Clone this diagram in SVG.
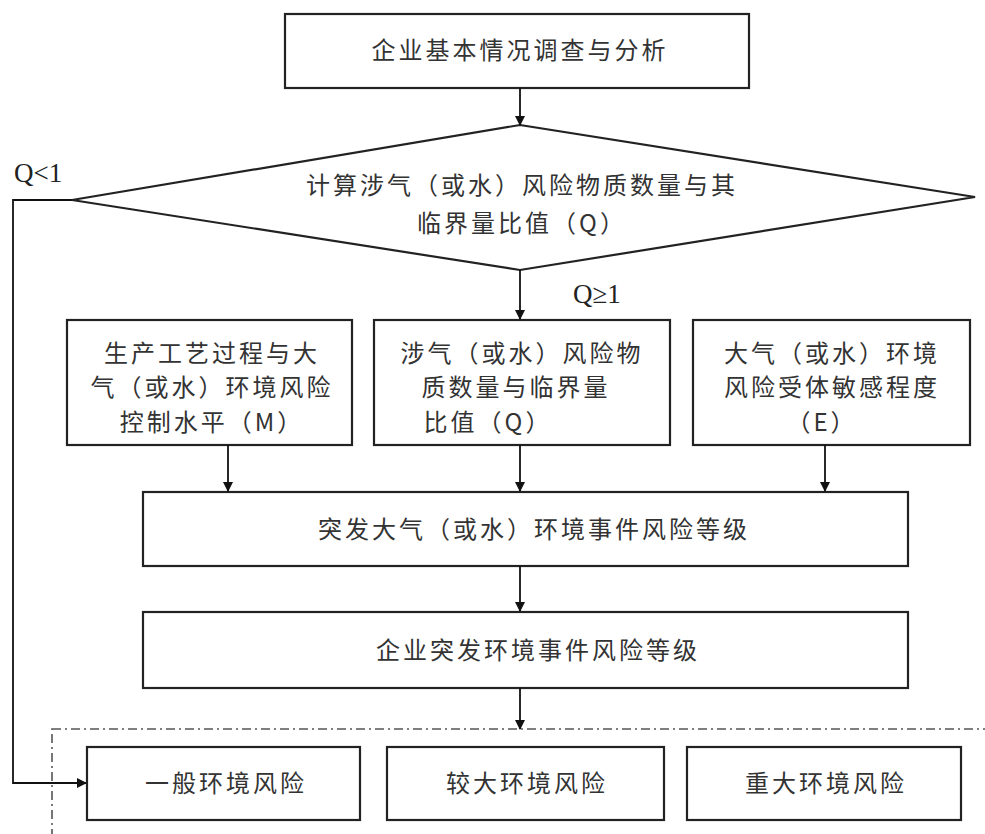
<svg xmlns="http://www.w3.org/2000/svg" width="985" height="834" viewBox="0 0 985 834">
<style>
.box{fill:#fff;stroke:#222;stroke-width:2.2}
.t{font-family:"Noto Sans CJK SC","Liberation Serif",serif;font-size:24px;fill:#333;text-anchor:middle;letter-spacing:3px}
.lbl{font-family:"Liberation Serif",serif;font-size:27px;fill:#222}
.c{fill:none;stroke:#111;stroke-width:1.8}
.dash{fill:none;stroke:#555;stroke-width:1.6;stroke-dasharray:9,4,2,4}
</style>
<defs>
<marker id="ah" markerWidth="10" markerHeight="10" refX="9" refY="5" orient="auto" markerUnits="userSpaceOnUse" viewBox="0 0 10 10">
<path d="M0,0 L10,5 L0,10 z" fill="#111"/>
</marker>
</defs>
<rect class="dash" x="52" y="729" width="960" height="130"/>
<g id="n_start"><rect class="box" x="285" y="14" width="464" height="74"/><text class="t" x="520" y="59">企业基本情况调查与分析</text></g>
<g id="n_decision"><polygon class="box" points="520,125 975,197 520,270 72,200"/>
<text class="t" x="522" y="194">计算涉气（或水）风险物质数量与其</text>
<text class="t" x="522" y="232">临界量比值（Q）</text></g>
<g id="n_m"><rect class="box" x="67" y="320" width="285" height="125"/>
<text class="t" x="212" y="362">生产工艺过程与大</text>
<text class="t" x="212" y="396">气（或水）环境风险</text>
<text class="t" x="212" y="431">控制水平（M）</text></g>
<g id="n_q"><rect class="box" x="374" y="320" width="296" height="125"/>
<text class="t" x="522" y="362">涉气（或水）风险物</text>
<text class="t" x="516" y="396">质数量与临界量</text>
<text class="t" x="488" y="431">比值（Q）</text></g>
<g id="n_e"><rect class="box" x="693" y="320" width="277" height="125"/>
<text class="t" x="832" y="362">大气（或水）环境</text>
<text class="t" x="832" y="396">风险受体敏感程度</text>
<text class="t" x="822" y="431">（E）</text></g>
<g id="n_level1"><rect class="box" x="143" y="492" width="765" height="74"/><text class="t" x="534" y="538">突发大气（或水）环境事件风险等级</text></g>
<g id="n_level2"><rect class="box" x="143" y="612" width="765" height="76"/><text class="t" x="538" y="659">企业突发环境事件风险等级</text></g>
<g id="n_general"><rect class="box" x="87" y="747" width="273" height="73"/><text class="t" x="226" y="792">一般环境风险</text></g>
<g id="n_larger"><rect class="box" x="387" y="747" width="277" height="73"/><text class="t" x="527" y="792">较大环境风险</text></g>
<g id="n_major"><rect class="box" x="687" y="747" width="274" height="73"/><text class="t" x="826" y="792">重大环境风险</text></g>
<g id="connectors">
<line class="c" x1="520" y1="88" x2="520" y2="125" marker-end="url(#ah)"/>
<line class="c" x1="520" y1="270" x2="520" y2="319" marker-end="url(#ah)"/>
<line class="c" x1="228" y1="445" x2="228" y2="491" marker-end="url(#ah)"/>
<line class="c" x1="520" y1="445" x2="520" y2="491" marker-end="url(#ah)"/>
<line class="c" x1="825" y1="445" x2="825" y2="491" marker-end="url(#ah)"/>
<line class="c" x1="520" y1="566" x2="520" y2="611" marker-end="url(#ah)"/>
<line class="c" x1="520" y1="688" x2="520" y2="729" marker-end="url(#ah)"/>
<polyline class="c" points="72,200 13,200 13,783 86,783" marker-end="url(#ah)"/>
<text class="lbl" x="14" y="182">Q&lt;1</text>
<text class="lbl" x="573" y="303">Q≥1</text>
</g>
</svg>
